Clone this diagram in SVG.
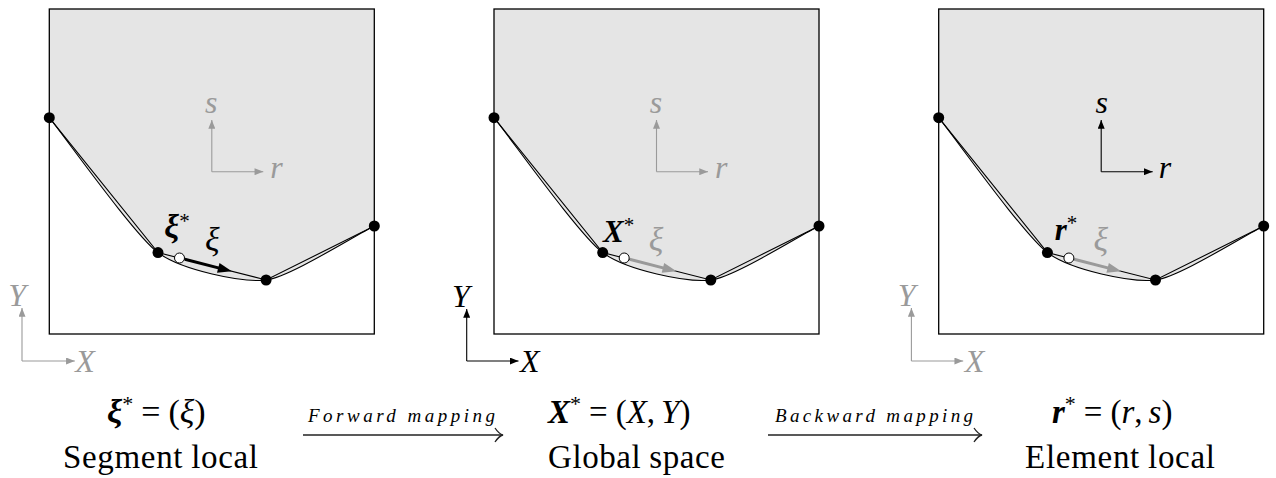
<svg xmlns="http://www.w3.org/2000/svg" xmlns:xlink="http://www.w3.org/1999/xlink" width="1276" height="478" viewBox="0 0 1276 478">
<style>
text{font-family:'Liberation Serif','Times New Roman',Tinos,'DejaVu Serif',serif;}
.it{font-style:italic;}
.bi{font-style:italic;font-weight:bold;}
.gray{fill:#9a9a9a;}
.blk{fill:#000;}
.fill{fill:#e5e5e5;stroke:none;}
.edge{fill:none;stroke:#000;stroke-width:1.1;}
.box{fill:none;stroke:#000;stroke-width:1.3;}
.ax{fill:none;stroke-width:1.1;}
.axg{stroke:#9a9a9a;}
.axb{stroke:#000;}
.node{fill:#000;}
.open{fill:#fff;stroke:#000;stroke-width:1;}
.conn{fill:none;stroke:#222;stroke-width:1.3;}
</style>
<defs>
<marker id="ahB" viewBox="0 0 10 8" refX="10" refY="4" markerWidth="9" markerHeight="7" markerUnits="userSpaceOnUse" orient="auto"><path d="M0,0 L10,4 L0,8 z" fill="#000"/></marker>
<marker id="ahG" viewBox="0 0 10 8" refX="10" refY="4" markerWidth="9" markerHeight="7" markerUnits="userSpaceOnUse" orient="auto"><path d="M0,0 L10,4 L0,8 z" fill="#9a9a9a"/></marker>
<g id="base">
<rect x="0" y="0" width="325" height="325" fill="#fff"/>
<path class="fill" d="M0,0 L0,108.7 C18,131 85.2,226 108.7,243.6 C132.2,261.2 193.4,273.9 216.8,271 C240.2,268.1 303.4,227.8 325,217 L325,0 Z"/>
<path class="edge" d="M0,108.7 C18,131 85.2,226 108.7,243.6 C132.2,261.2 193.4,273.9 216.8,271 C240.2,268.1 303.4,227.8 325,217"/>
<polyline class="edge" points="0,108.7 108.7,243.6 216.8,271 325,217"/>
<rect class="box" x="0" y="0" width="325" height="325"/>
<circle class="node" cx="0" cy="108.7" r="5.5"/>
<circle class="node" cx="108.7" cy="243.6" r="5.5"/>
<circle class="node" cx="216.8" cy="271" r="5.5"/>
<circle class="node" cx="325" cy="217" r="5.5"/>
</g>
</defs>

<g id="panel-segment" transform="translate(49.3,9)">
<use xlink:href="#base"/>
<line class="ax axg" x1="162.5" y1="162.7" x2="162.5" y2="111" marker-end="url(#ahG)"/>
<line class="ax axg" x1="162.5" y1="162.7" x2="214" y2="162.7" marker-end="url(#ahG)"/>
<text class="it gray" x="162" y="104" font-size="32" text-anchor="middle">s</text>
<text class="it gray" x="221" y="169" font-size="32">r</text>
<line class="ax axg" x1="-27.3" y1="352" x2="-27.3" y2="299" marker-end="url(#ahG)"/>
<line class="ax axg" x1="-27.3" y1="352" x2="25.5" y2="352" marker-end="url(#ahG)"/>
<text class="it gray" x="-41" y="297" font-size="32">Y</text>
<text class="it gray" x="26" y="363" font-size="32">X</text>
<line x1="135.5" y1="250.3" x2="170" y2="259.1" stroke="#000" stroke-width="3"/>
<polygon points="182.5,262.3 170.2,254 167.7,263.7" fill="#000"/>
<circle class="open" cx="130.2" cy="249" r="5"/>
<text class="it blk" x="163" y="242" font-size="34" text-anchor="middle">ξ</text>
<text class="blk" x="115" y="229" font-size="33"><tspan class="bi">ξ</tspan><tspan font-size="21" dy="-10">*</tspan></text>
</g>

<g id="panel-global" transform="translate(494,9)">
<use xlink:href="#base"/>
<line class="ax axg" x1="162.5" y1="162.7" x2="162.5" y2="111" marker-end="url(#ahG)"/>
<line class="ax axg" x1="162.5" y1="162.7" x2="214" y2="162.7" marker-end="url(#ahG)"/>
<text class="it gray" x="162" y="104" font-size="32" text-anchor="middle">s</text>
<text class="it gray" x="221" y="169" font-size="32">r</text>
<line class="ax axb" x1="-27.3" y1="352" x2="-27.3" y2="300" marker-end="url(#ahB)"/>
<line class="ax axb" x1="-27.3" y1="352" x2="24.5" y2="352" marker-end="url(#ahB)"/>
<text class="it blk" x="-42" y="298" font-size="32">Y</text>
<text class="it blk" x="26" y="363" font-size="32">X</text>
<line x1="135.5" y1="250.3" x2="170" y2="259.1" stroke="#9a9a9a" stroke-width="3"/>
<polygon points="182.5,262.3 170.2,254 167.7,263.7" fill="#9a9a9a"/>
<circle class="open" cx="130.2" cy="249" r="5"/>
<text class="it gray" x="162" y="242" font-size="34" text-anchor="middle">ξ</text>
<text class="blk" x="109" y="233" font-size="31"><tspan class="bi">X</tspan><tspan font-size="21" dy="-10">*</tspan></text>
</g>

<g id="panel-element" transform="translate(938.7,9)">
<use xlink:href="#base"/>
<line class="ax axb" x1="162.5" y1="162.7" x2="162.5" y2="111" marker-end="url(#ahB)"/>
<line class="ax axb" x1="162.5" y1="162.7" x2="214" y2="162.7" marker-end="url(#ahB)"/>
<text class="it blk" x="163" y="104" font-size="32" text-anchor="middle">s</text>
<text class="it blk" x="220" y="169" font-size="32">r</text>
<line class="ax axg" x1="-27.3" y1="352" x2="-27.3" y2="299" marker-end="url(#ahG)"/>
<line class="ax axg" x1="-27.3" y1="352" x2="24.5" y2="352" marker-end="url(#ahG)"/>
<text class="it gray" x="-41" y="297" font-size="32">Y</text>
<text class="it gray" x="26" y="363" font-size="32">X</text>
<line x1="135.5" y1="250.3" x2="170" y2="259.1" stroke="#9a9a9a" stroke-width="3"/>
<polygon points="182.5,262.3 170.2,254 167.7,263.7" fill="#9a9a9a"/>
<circle class="open" cx="130.2" cy="249" r="5"/>
<text class="it gray" x="162" y="242" font-size="34" text-anchor="middle">ξ</text>
<text class="blk" x="116" y="231" font-size="31"><tspan class="bi">r</tspan><tspan font-size="21" dy="-10">*</tspan></text>
</g>

<g id="label-segment">
<text class="blk" x="107" y="423" font-size="34"><tspan class="bi">ξ</tspan><tspan font-size="22" dy="-12">*</tspan><tspan dx="8" dy="12">=</tspan><tspan dx="8">(</tspan><tspan class="it">ξ</tspan>)</text>
<text class="blk" x="63" y="468" font-size="33" textLength="195" lengthAdjust="spacing">Segment<tspan dx="8">local</tspan></text>
</g>
<g id="label-global">
<text class="blk" x="548" y="423" font-size="33"><tspan class="bi">X</tspan><tspan font-size="22" dy="-12">*</tspan><tspan dx="8" dy="12">=</tspan><tspan dx="8">(</tspan><tspan class="it">X</tspan>,<tspan class="it" dx="6">Y</tspan>)</text>
<text class="blk" x="548" y="468" font-size="33" textLength="177" lengthAdjust="spacing">Global<tspan dx="8">space</tspan></text>
</g>
<g id="label-element">
<text class="blk" x="1052" y="423" font-size="33"><tspan class="bi">r</tspan><tspan font-size="22" dy="-12">*</tspan><tspan dx="8" dy="12">=</tspan><tspan dx="8">(</tspan><tspan class="it">r</tspan>,<tspan class="it" dx="6">s</tspan>)</text>
<text class="blk" x="1025" y="468" font-size="33" textLength="190" lengthAdjust="spacing">Element<tspan dx="8">local</tspan></text>
</g>

<g id="connectors">
<g id="forward-mapping">
<line class="conn" x1="303" y1="435" x2="502" y2="435"/>
<path class="conn" d="M495,428 Q499,434 503,435 Q499,436 495,442"/>
<text class="it blk" x="308" y="422" font-size="19" textLength="187" lengthAdjust="spacing">Forward mapping</text>
</g>
<g id="backward-mapping">
<line class="conn" x1="768" y1="435" x2="981" y2="435"/>
<path class="conn" d="M974,428 Q978,434 982,435 Q978,436 974,442"/>
<text class="it blk" x="775" y="422" font-size="19" textLength="198" lengthAdjust="spacing">Backward mapping</text>
</g>
</g>
</svg>
